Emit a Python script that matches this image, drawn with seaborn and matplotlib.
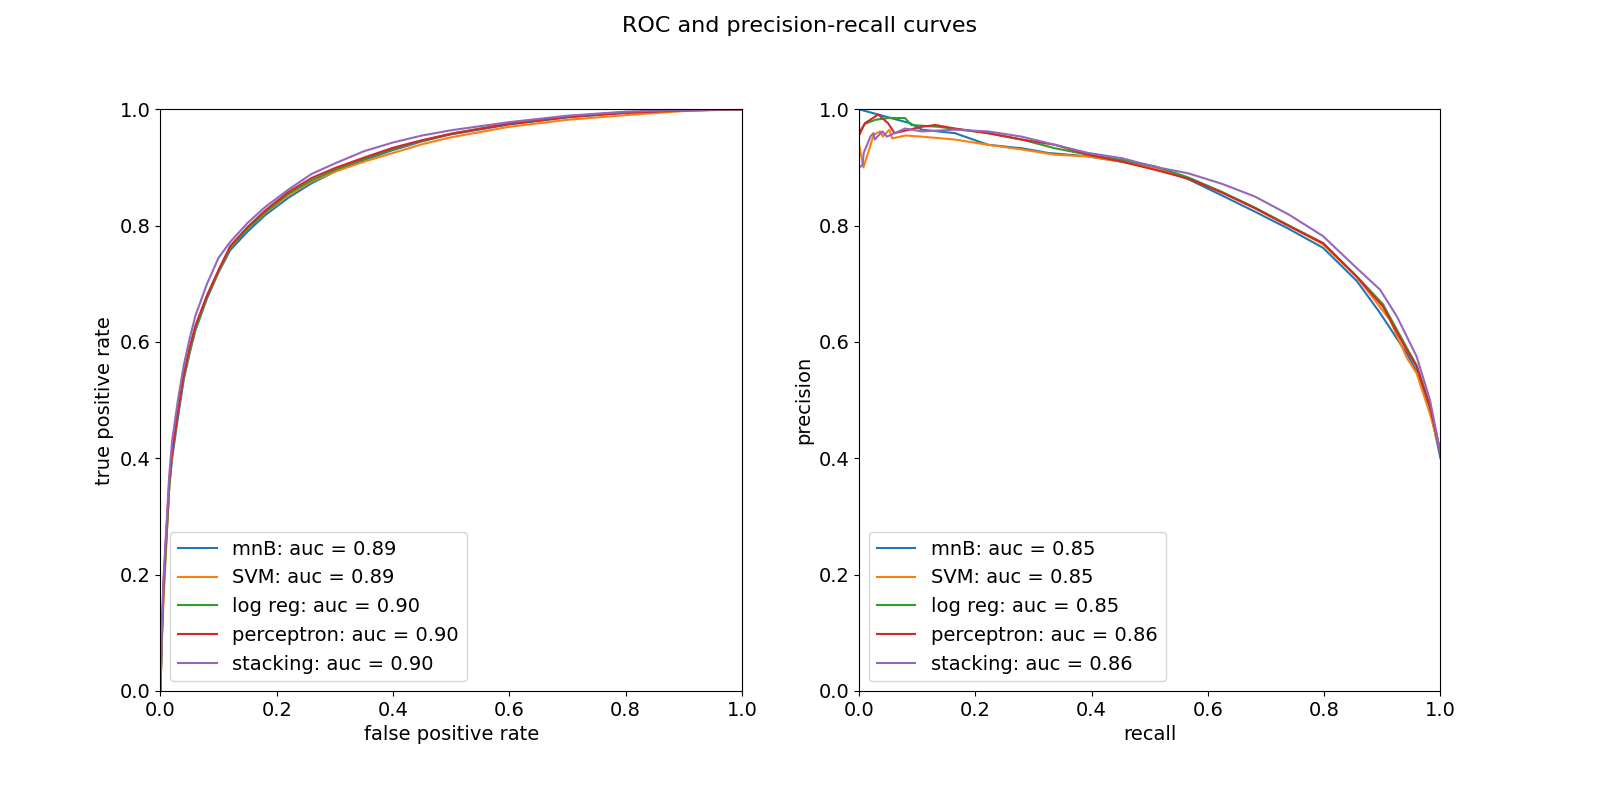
import numpy as np
import pandas as pd
import matplotlib
matplotlib.use("Agg")
import matplotlib.pyplot as plt
import seaborn as sns

# ---------------- data ----------------
models = ["mnB", "SVM", "log reg", "perceptron", "stacking"]
roc_auc = [0.89, 0.89, 0.90, 0.90, 0.90]
pr_auc = [0.85, 0.85, 0.85, 0.86, 0.86]

roc_fpr = [0.0, 0.002, 0.005, 0.01, 0.015, 0.02, 0.03, 0.04, 0.05, 0.06, 0.08,
           0.10, 0.12, 0.15, 0.18, 0.22, 0.26, 0.30, 0.35, 0.40, 0.45, 0.50,
           0.60, 0.70, 0.80, 0.90, 1.0]
tpr_mnb = [0, .08, .17, .26, .35, .40, .47, .535, .58, .62, .675, .72, .758, .79,
           .818, .848, .873, .893, .913, .930, .945, .957, .974, .986, .994, .998, 1]
tpr_svm = [0, .07, .15, .25, .35, .41, .48, .54, .585, .625, .68, .722, .762, .795,
           .822, .852, .876, .893, .910, .925, .940, .952, .970, .982, .990, .997, 1]
tpr_logreg = [0, .08, .17, .26, .35, .41, .48, .54, .585, .622, .678, .722, .762, .795,
              .823, .855, .878, .896, .915, .932, .946, .958, .976, .988, .995, .999, 1]
tpr_perc = [0, .09, .18, .27, .36, .41, .48, .545, .59, .628, .68, .724, .765, .798,
            .826, .858, .882, .899, .917, .934, .947, .958, .975, .987, .994, .998, 1]
tpr_stack = [0, .09, .19, .28, .37, .43, .50, .56, .605, .645, .70, .745, .772, .805,
             .832, .862, .889, .907, .928, .943, .955, .964, .978, .989, .996, .999, 1]

rec_mnb = [0, .088, .108, .165, .222, .28, .325, .394, .452, .509, .566, .624,
           .681, .738, .798, .856, .896, .942, .959, .982, 1.0]
prec_mnb = [1.0, .976, .965, .959, .939, .933, .925, .919, .910, .899, .880, .852,
            .824, .795, .762, .705, .650, .580, .550, .485, .400]

rec_svm = [0, .0075, .019, .025, .036, .041, .052, .057, .08, .108, .165, .222,
           .28, .337, .394, .452, .509, .566, .624, .681, .738, .798, .856, .913,
           .942, .959, .982, 1.0]
prec_svm = [.94, .90, .936, .956, .962, .953, .965, .950, .955, .953, .948, .939,
            .931, .922, .919, .910, .899, .882, .857, .830, .800, .768, .712, .638,
            .573, .546, .476, .410]

rec_logreg = [0, .01, .028, .05, .079, .09, .136, .222, .28, .337, .394, .452,
              .509, .566, .624, .681, .738, .798, .856, .901, .942, .959, .982, 1.0]
prec_logreg = [.96, .975, .982, .985, .985, .973, .970, .959, .948, .933, .922, .913,
               .902, .883, .858, .831, .801, .770, .713, .665, .590, .560, .490, .410]

rec_perc = [0, 0, .01, .033, .05, .061, .108, .131, .165, .222, .28, .337, .394,
            .452, .509, .566, .624, .681, .738, .798, .856, .901, .942, .959, .982, 1.0]
prec_perc = [1.0, .955, .976, .991, .976, .959, .970, .973, .967, .959, .948, .939, .922,
             .910, .896, .881, .857, .830, .800, .770, .712, .661, .586, .558, .489, .410]

rec_stack = [0, 0, .006, .008, .02, .025, .027, .04, .048, .079, .108, .165, .222,
             .28, .337, .394, .452, .509, .566, .624, .681, .741, .798, .856, .896,
             .925, .959, .982, 1.0]
prec_stack = [.833, .90, .904, .925, .954, .959, .948, .962, .953, .967, .962, .965, .962,
              .953, .939, .925, .916, .901, .890, .872, .850, .818, .782, .727, .690,
              .644, .575, .500, .409]

# ---------------- frames ----------------
tprs = [tpr_mnb, tpr_svm, tpr_logreg, tpr_perc, tpr_stack]
recs = [rec_mnb, rec_svm, rec_logreg, rec_perc, rec_stack]
precs = [prec_mnb, prec_svm, prec_logreg, prec_perc, prec_stack]

roc_rows = []
for m, a, t in zip(models, roc_auc, tprs):
    lab = f"{m}: auc = {a:.2f}"
    for x, y in zip(roc_fpr, t):
        roc_rows.append((lab, x, y))
roc_df = pd.DataFrame(roc_rows, columns=["model", "fpr", "tpr"])

pr_rows = []
for m, a, r, p in zip(models, pr_auc, recs, precs):
    lab = f"{m}: auc = {a:.2f}"
    for x, y in zip(r, p):
        pr_rows.append((lab, x, y))
pr_df = pd.DataFrame(pr_rows, columns=["model", "recall", "precision"])

palette = sns.color_palette("tab10", 5)

plt.rcParams["font.size"] = 14
plt.rcParams["font.family"] = ["DejaVu Sans"]

fig = plt.figure(figsize=(16, 8), dpi=100)
ax1 = fig.add_axes([0.1003, 0.13625, 0.3634, 0.7271])
ax2 = fig.add_axes([0.5369, 0.13625, 0.3634, 0.7271])

sns.lineplot(data=roc_df, x="fpr", y="tpr", hue="model", palette=palette,
             estimator=None, sort=False, ax=ax1, linewidth=1.5)
sns.lineplot(data=pr_df, x="recall", y="precision", hue="model", palette=palette,
             estimator=None, sort=False, ax=ax2, linewidth=1.5)

for ax, xl, yl in [(ax1, "false positive rate", "true positive rate"),
                   (ax2, "recall", "precision")]:
    ax.set_xlim(0, 1)
    ax.set_ylim(0, 1)
    ax.set_xlabel(xl)
    ax.set_ylabel(yl)
    h, l = ax.get_legend_handles_labels()
    ax.legend(h, l, loc="lower left", fontsize=14)

fig.suptitle("ROC and precision-recall curves", fontsize=16)
fig.savefig("out.png", dpi=100)
